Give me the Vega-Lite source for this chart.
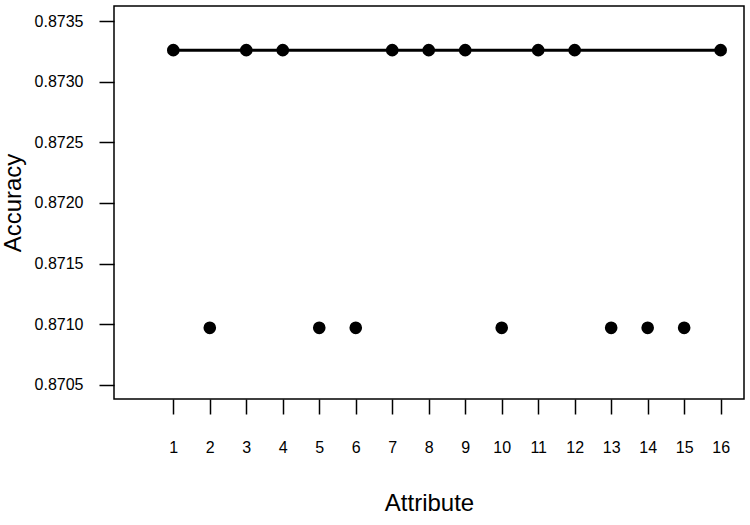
{
  "$schema": "https://vega.github.io/schema/vega-lite/v6.json",
  "autosize": "none",
  "width": 630,
  "height": 393,
  "padding": {"left": 114, "top": 6, "right": 6, "bottom": 126},
  "background": "white",
  "config": {
    "view": {"stroke": "black", "strokeWidth": 1.5},
    "font": "Liberation Sans",
    "axis": {
      "labelFont": "Liberation Sans",
      "titleFont": "Liberation Sans",
      "labelColor": "black",
      "titleColor": "black",
      "tickColor": "black",
      "labelFontSize": 16,
      "titleFontSize": 24,
      "titleFontWeight": "normal",
      "tickSize": 15,
      "tickWidth": 1.5,
      "domain": false,
      "grid": false
    }
  },
  "data": {
    "values": [
      {"Attribute": 1, "Accuracy": 0.87326},
      {"Attribute": 2, "Accuracy": 0.87097},
      {"Attribute": 3, "Accuracy": 0.87326},
      {"Attribute": 4, "Accuracy": 0.87326},
      {"Attribute": 5, "Accuracy": 0.87097},
      {"Attribute": 6, "Accuracy": 0.87097},
      {"Attribute": 7, "Accuracy": 0.87326},
      {"Attribute": 8, "Accuracy": 0.87326},
      {"Attribute": 9, "Accuracy": 0.87326},
      {"Attribute": 10, "Accuracy": 0.87097},
      {"Attribute": 11, "Accuracy": 0.87326},
      {"Attribute": 12, "Accuracy": 0.87326},
      {"Attribute": 13, "Accuracy": 0.87097},
      {"Attribute": 14, "Accuracy": 0.87097},
      {"Attribute": 15, "Accuracy": 0.87097},
      {"Attribute": 16, "Accuracy": 0.87326}
    ]
  },
  "encoding": {
    "x": {
      "field": "Attribute",
      "type": "quantitative",
      "scale": {"domain": [-0.625, 16.64], "nice": false, "zero": false},
      "axis": {
        "values": [1,2,3,4,5,6,7,8,9,10,11,12,13,14,15,16],
        "labelPadding": 25,
        "titlePadding": 36,
        "labelFlush": false,
        "labelOverlap": false
      }
    },
    "y": {
      "field": "Accuracy",
      "type": "quantitative",
      "scale": {"domain": [0.870383, 0.873624], "nice": false, "zero": false},
      "axis": {
        "values": [0.8705, 0.871, 0.8715, 0.872, 0.8725, 0.873, 0.8735],
        "format": ".4f",
        "labelPadding": 16,
        "titlePadding": 9,
        "labelFlush": false,
        "labelOverlap": false
      }
    }
  },
  "layer": [
    {
      "transform": [{"filter": "datum.Accuracy > 0.872"}],
      "mark": {"type": "line", "color": "black", "strokeWidth": 3}
    },
    {
      "mark": {"type": "point", "filled": true, "color": "black", "opacity": 1, "size": 160}
    }
  ]
}
